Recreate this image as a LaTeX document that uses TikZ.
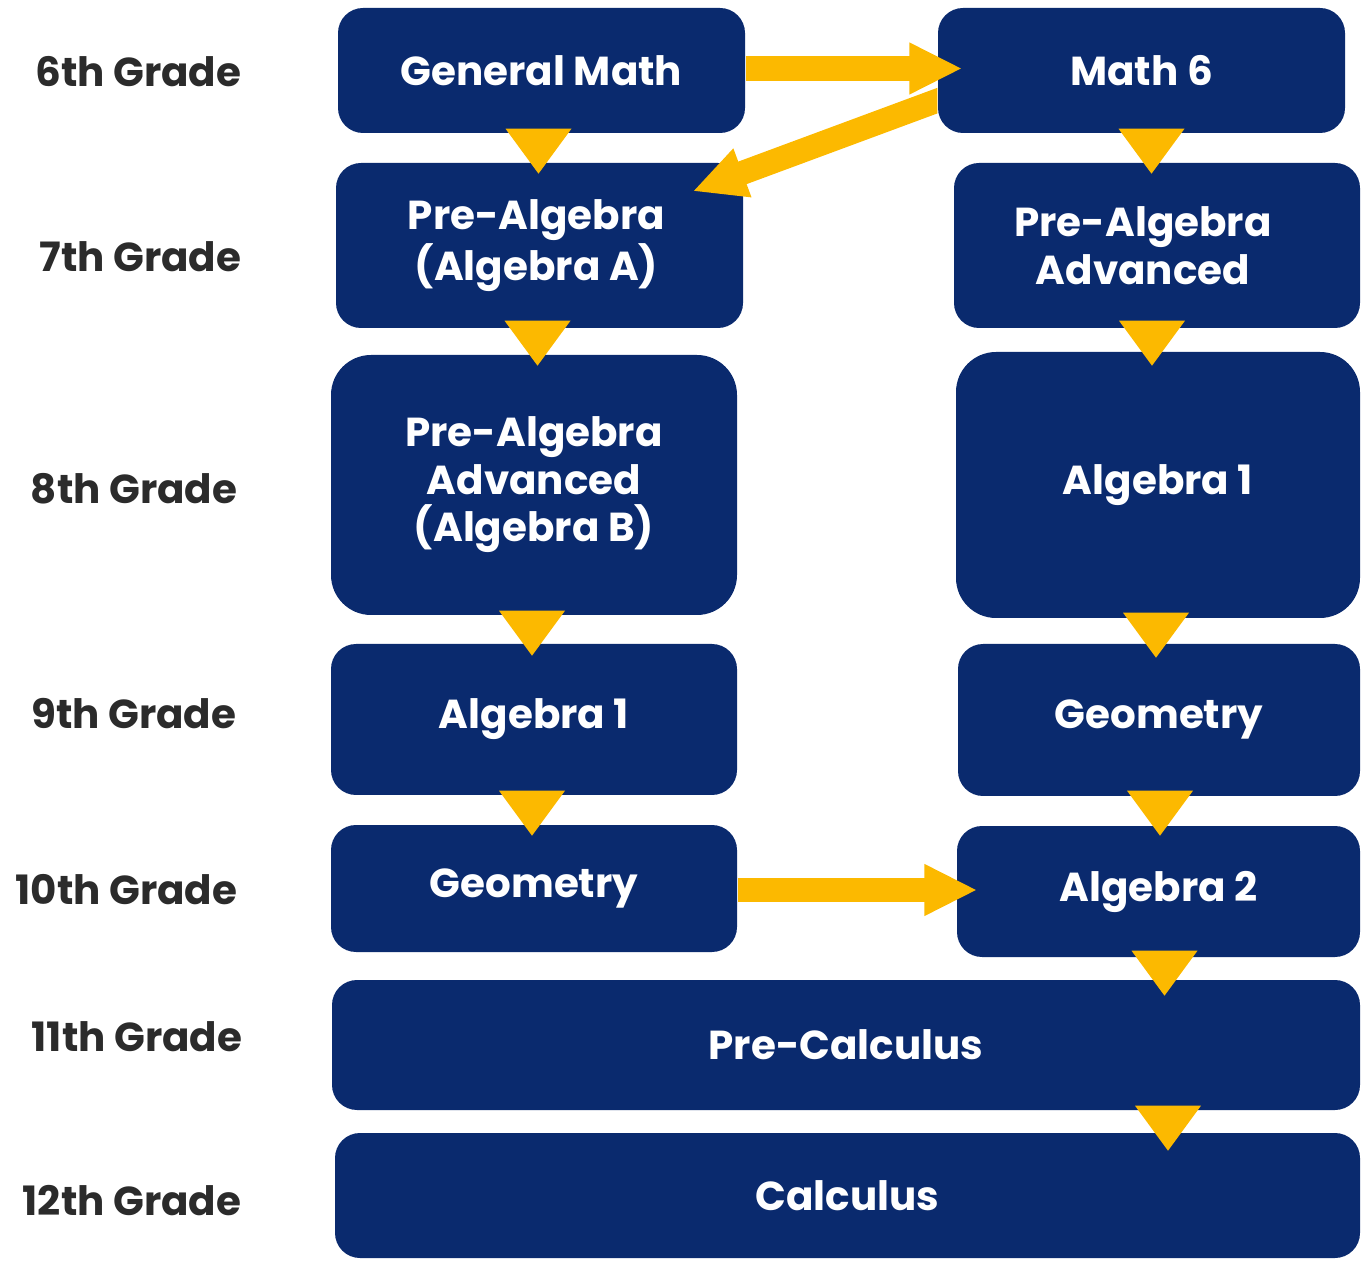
\documentclass[tikz,border=0pt]{standalone}
\usepackage{fontspec}
\setmainfont{Poppins}
\usetikzlibrary{arrows.meta,fit,calc}
\definecolor{navy}{HTML}{0A2A6E}
\definecolor{yel}{HTML}{FCB900}
\definecolor{lab}{HTML}{2B2B2B}
\tikzset{
  box/.style={fill=navy, draw=none, rounded corners=0.25cm, inner sep=0pt},
  bigbox/.style={box, rounded corners=0.4cm},
  btext/.style={text=white, inner sep=0pt, align=center,
    font=\fontsize{11.5}{13.5}\selectfont\bfseries},
  grade/.style={anchor=east, inner sep=0pt, text=lab, font=\fontsize{11.5}{13}\selectfont\bfseries},
  bigarrow/.style={draw=yel, line width=0.24cm, -{Triangle[length=0.53cm, width=0.48cm]}},
}
\newcommand\dtri[1]{\fill[yel] #1 ++(-33,0) -- ++(66,0) -- ++(-33,45) -- cycle;}
\begin{document}
\begin{tikzpicture}[x=0.01cm, y=-0.01cm]
\useasboundingbox (0,0) rectangle (1366,1261);
% grade labels
\node[grade] (g6) at (242,72) {6th Grade};
\node[grade] (g7) at (242,257) {7th Grade};
\node[grade] (g8) at (238,489) {8th Grade};
\node[grade] (g9) at (237,714) {9th Grade};
\node[grade] (g10) at (238,890) {10th Grade};
\node[grade] (g11) at (243,1037) {11th Grade};
\node[grade] (g12) at (242,1201) {12th Grade};
% boxes
\node[box, fit={(338,8) (745,133)}] (gm) {};
\node[box, fit={(938,8) (1345,133)}] (m6) {};
\node[box, fit={(336,163) (743,328)}] (paA) {};
\node[box, fit={(954,163) (1360,328)}] (paR) {};
\node[bigbox, fit={(331,355) (737,615)}] (paB) {};
\node[bigbox, fit={(956,352) (1360,618)}] (a1R) {};
\node[box, fit={(331,644) (737,795)}] (a1L) {};
\node[box, fit={(958,644) (1360,796)}] (geR) {};
\node[box, fit={(331,825) (737,952)}] (geL) {};
\node[box, fit={(957,826) (1360,957)}] (a2) {};
\node[box, fit={(332,980) (1360,1110)}] (pc) {};
\node[box, fit={(335,1133) (1360,1258)}] (ca) {};
% box texts
\node[btext] (tgm) at (gm) {General Math};
\node[btext] (tm6) at (m6) {Math 6};
\node[btext] (tpaA) at ($(paA)+(-3,0)$) {Pre-Algebra\\(Algebra A)};
\node[btext] (tpaR) at ($(paR)+(-14,0)$) {Pre-Algebra\\Advanced};
\node[btext] (tpaB) at (paB) {Pre-Algebra\\Advanced\\(Algebra B)};
\node[btext] (ta1R) at (a1R) {Algebra 1};
\node[btext] (ta1L) at (a1L) {Algebra 1};
\node[btext] (tgeR) at (geR) {Geometry};
\node[btext] (tgeL) at (geL) {Geometry};
\node[btext] (ta2) at (a2) {Algebra 2};
\node[btext] (tpc) at (pc) {Pre-Calculus};
\node[btext] (tca) at (ca) {Calculus};
% big arrows
\draw[bigarrow, shorten >=-0.25cm] ($(gm.east)+(0,-2)$) -- ($(m6.west)+(0,-2)$);
\begin{scope}
\clip (0,0) rectangle (m6.south west |- 0,1261);
\draw[bigarrow] ($(m6.west)+(22,22)$) -- ($(paA.north east)+(-51,29)$);
\end{scope}
\draw[bigarrow, shorten >=-0.21cm] ($(geL.east)+(0,1.5)$) -- ($(a2.west)+(0,-1.5)$);
% down triangles
\dtri{($(gm.south)+(-3,-5)$)}
\dtri{($(m6.south)+(10,-5)$)}
\dtri{($(paA.south)+(-2,-8)$)}
\dtri{($(paR.south)+(-5,-8)$)}
\dtri{($(paB.south)+(-2,-5)$)}
\dtri{($(a1R.south)+(-2,-6)$)}
\dtri{($(a1L.south)+(-2,-5)$)}
\dtri{($(geR.south)+(1,-6)$)}
\dtri{($(a2.south)+(6,-7)$)}
\dtri{($(pc.south)+(322,-5)$)}
\end{tikzpicture}
\end{document}
